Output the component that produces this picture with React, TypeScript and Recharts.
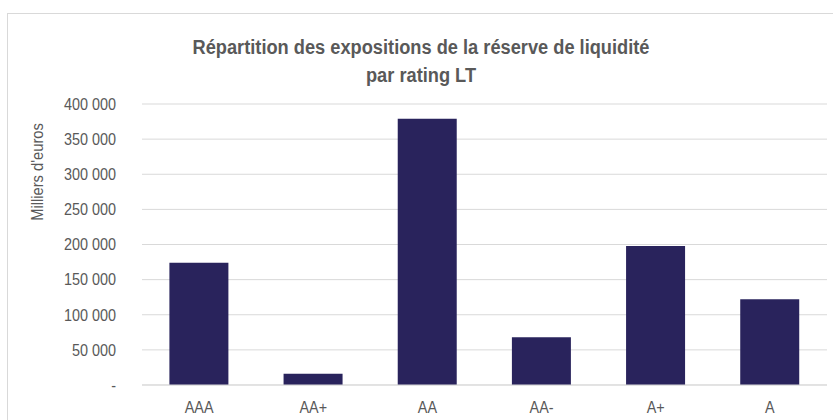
import React from "react";
import { BarChart, Bar, XAxis, YAxis, CartesianGrid } from "recharts";

const categories = ["AAA", "AA+", "AA", "AA-", "A+", "A"];
const exposures = [174000, 16000, 379000, 68000, 198000, 122000];
const yTicks = [0, 50000, 100000, 150000, 200000, 250000, 300000, 350000, 400000];
const titleLines = ["Répartition des expositions de la réserve de liquidité", "par rating LT"];
const yAxisTitle = "Milliers d'euros";

const data = categories.map((c, i) => ({ rating: c, value: exposures[i] }));

const FONT = "'Liberation Sans', Arial, sans-serif";
const GREY = "#595959";
const SQUEEZE = 0.9;

const fmt = (v: number) =>
  v === 0 ? "-" : String(v).replace(/\B(?=(\d{3})+(?!\d))/g, " ");

const YLabel = () => (
  <text
    x={0}
    y={0}
    transform="translate(37,172) rotate(-90) scale(0.92,1)"
    textAnchor="middle"
    dominantBaseline="central"
    fill={GREY}
    fontSize={16}
    fontFamily={FONT}
  >
    {yAxisTitle}
  </text>
);

const YTick = (props: any) => {
  const { y, payload } = props;
  return (
    <text
      x={0}
      y={0}
      transform={`translate(116,${y}) scale(${SQUEEZE},1)`}
      textAnchor="end"
      dominantBaseline="central"
      fill={GREY}
      fontSize={16}
      fontFamily={FONT}
    >
      {fmt(payload.value)}
    </text>
  );
};

const XTick = (props: any) => {
  const { x, payload } = props;
  return (
    <text
      x={0}
      y={0}
      transform={`translate(${x},407.5) scale(${SQUEEZE},1)`}
      textAnchor="middle"
      dominantBaseline="central"
      fill={GREY}
      fontSize={16}
      fontFamily={FONT}
    >
      {payload.value}
    </text>
  );
};

export default function App() {
  return (
    <div style={{ position: "absolute", left: 0, top: 0, width: 833, height: 420, overflow: "hidden", background: "#fff" }}>
      <div
        style={{
          position: "absolute",
          left: 7,
          top: 13,
          width: 840,
          height: 440,
          border: "1px solid #d9d9d9",
          boxSizing: "border-box",
        }}
      />
      <div
        style={{
          position: "absolute",
          left: 0,
          width: 842,
          top: 33,
          textAlign: "center",
          fontFamily: FONT,
          fontSize: 19.5,
          fontWeight: "bold",
          color: GREY,
          lineHeight: "28px",
        }}
      >
        {titleLines.map((t) => (
          <div key={t} style={{ transform: "scaleX(0.935)", transformOrigin: "421px 50%" }}>
            {t}
          </div>
        ))}
      </div>
      <div style={{ position: "absolute", left: 0, top: 0 }}>
        <BarChart
          width={833}
          height={420}
          data={data}
          margin={{ top: 104, right: 6, bottom: 5, left: 0 }}
          barCategoryGap="24%"
        >
          <CartesianGrid vertical={false} stroke="#d9d9d9" strokeWidth={1} />
          <XAxis
            dataKey="rating"
            tickLine={false}
            axisLine={{ stroke: "#d9d9d9" }}
            tick={<XTick />}
            interval={0}
          />
          <YAxis
            width={142}
            domain={[0, 400000]}
            ticks={yTicks}
            tickLine={false}
            axisLine={false}
            tick={<YTick />}
            interval={0}
            label={<YLabel />}
          />
          <Bar dataKey="value" fill="#29235c" isAnimationActive={false} />
        </BarChart>
      </div>
    </div>
  );
}
